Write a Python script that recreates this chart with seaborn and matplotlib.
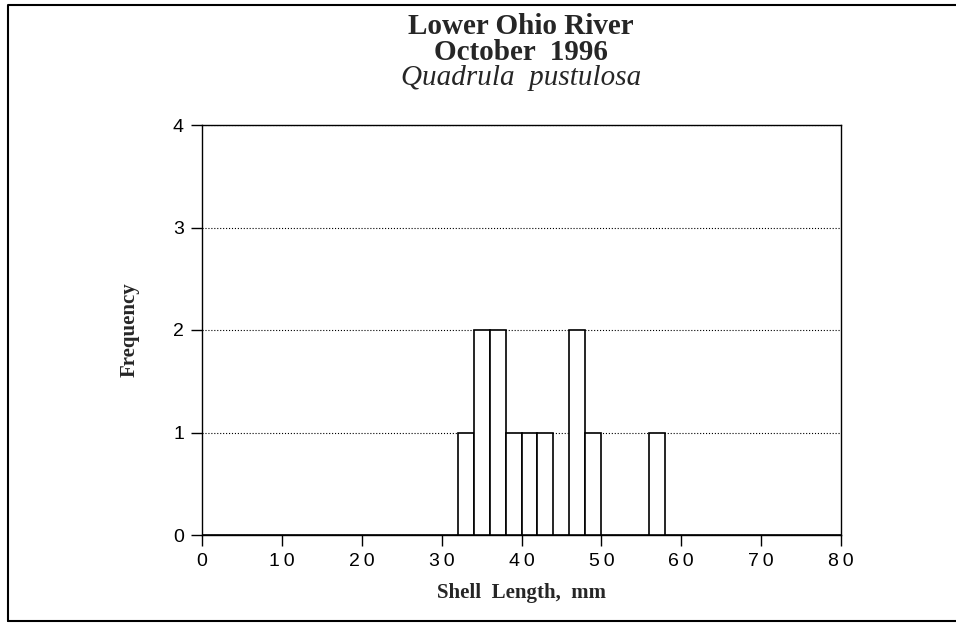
import numpy as np
import pandas as pd
import matplotlib
matplotlib.use("Agg")
import matplotlib.pyplot as plt
import seaborn as sns

# histogram bins (left edge of each 2 mm bin)
bin_left = [32, 34, 36, 38, 40, 42, 44, 46, 48, 56]
counts = [1, 2, 2, 1, 1, 1, 0, 2, 1, 1]
x_ticks = [0, 10, 20, 30, 40, 50, 60, 70, 80]
y_ticks = [0, 1, 2, 3, 4]

sns.set_style("white")
plt.rcParams['font.family'] = ['Liberation Sans', 'DejaVu Sans']

fig = plt.figure(figsize=(9.56, 6.26), dpi=100)
ax = fig.add_axes([202 / 956, 1 - 535 / 626, 639 / 956, 410 / 626])

df = pd.DataFrame({"length": [b + 1 for b in bin_left], "n": counts})
sns.histplot(data=df, x="length", weights="n", bins=list(range(0, 82, 2)), ax=ax,
             color="white", edgecolor="black", linewidth=1.2, alpha=1, zorder=3)

ax.set_xlim(0, 80)
ax.set_ylim(0, 4)
ax.set_xticks(x_ticks)
ax.set_yticks(y_ticks)
ax.tick_params(axis="both", direction="out", length=8, width=1, labelsize=14,
               colors="black", left=True, bottom=True, pad=5)
# spaced digits like the original typesetting
ax.set_xticklabels(["\u2009".join(str(t)) for t in x_ticks])
ax.grid(axis="y", linestyle=":", color="black", linewidth=0.8)
ax.grid(axis="x", visible=False)
ax.set_axisbelow(True)
for s in ax.spines.values():
    s.set_color("black")
    s.set_linewidth(1)

ax.set_xlabel("Shell  Length,  mm", family="Liberation Serif", fontweight="bold",
              fontsize=15, labelpad=9)
ax.set_ylabel("Frequency", family="Liberation Serif", fontweight="bold",
              fontsize=15, labelpad=24)

fig.text(521 / 956, 1 - 34 / 626, "Lower Ohio River", ha="center", va="baseline",
         family="Liberation Serif", fontweight="bold", fontsize=21)
fig.text(521 / 956, 1 - 60 / 626, "October  1996", ha="center", va="baseline",
         family="Liberation Serif", fontweight="bold", fontsize=21)
fig.text(521 / 956, 1 - 85 / 626, "Quadrula  pustulosa", ha="center", va="baseline",
         family="Liberation Serif", style="italic", fontsize=21)

# outer frame of the scanned figure
fig.add_artist(plt.Line2D([8 / 956, 8 / 956, 1], [1 - 621 / 626, 1 - 5 / 626, 1 - 5 / 626],
                          transform=fig.transFigure, color="black", linewidth=1.5))
fig.add_artist(plt.Line2D([8 / 956, 1], [1 - 621 / 626, 1 - 621 / 626],
                          transform=fig.transFigure, color="black", linewidth=1.5))

fig.savefig("out.png", dpi=100)
